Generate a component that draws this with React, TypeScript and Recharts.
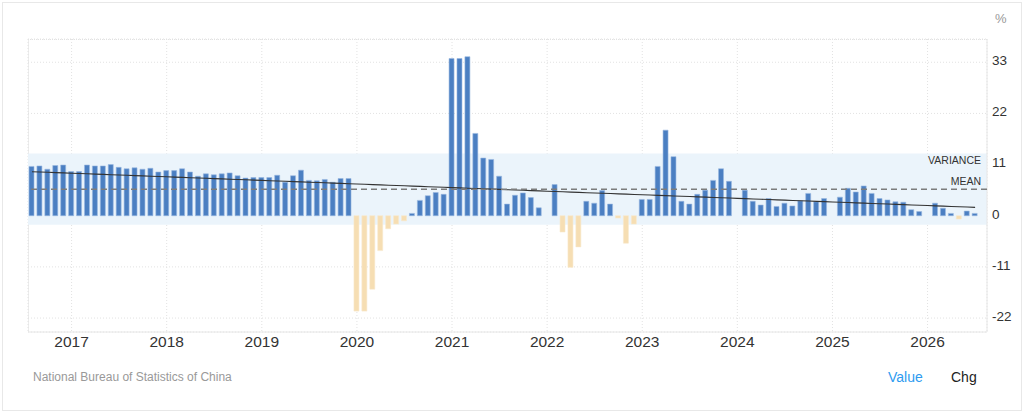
import { ComposedChart, Bar, Line, Cell, XAxis, YAxis, CartesianGrid, ReferenceArea, ReferenceLine } from 'recharts';

// China retail sales YoY (%), monthly. null = no print for that month
const startYear = 2016;
const startMonth = 8; // August
const v2016 = [10.6, 10.7, 10.0, 10.8, 10.9]; // Aug–Dec
const v2017 = [9.5, 9.5, 10.9, 10.7, 10.7, 11.0, 10.4, 10.1, 10.3, 10.0, 10.2, 9.4];
const v2018 = [9.7, 9.7, 10.1, 9.4, 8.5, 9.0, 8.8, 9.0, 9.2, 8.6, 8.1, 8.2];
const v2019 = [8.2, 8.2, 8.7, 7.2, 8.6, 9.8, 7.6, 7.5, 7.8, 7.2, 8.0, 8.0];
const v2020 = [-20.5, -20.5, -15.8, -7.5, -2.8, -1.8, -1.1, 0.5, 3.3, 4.3, 5.0, 4.6];
const v2021 = [33.8, 33.8, 34.2, 17.7, 12.4, 12.1, 8.5, 2.5, 4.4, 4.9, 3.9, 1.7];
const v2022 = [null, 6.7, -3.5, -11.1, -6.7, 3.1, 2.7, 5.4, 2.5, -0.5, -5.9, -1.8];
const v2023 = [3.5, 3.5, 10.6, 18.4, 12.7, 3.1, 2.5, 4.6, 5.5, 7.6, 10.1, 7.4];
const v2024 = [null, 5.5, 3.1, 2.3, 3.7, 2.0, 2.7, 2.1, 3.2, 4.8, 3.0, 3.7];
const v2025 = [null, 4.0, 5.9, 5.1, 6.4, 4.8, 3.7, 3.4, 3.0, 2.9, 1.3, 0.9];
const v2026 = [null, 2.7, 1.6, 0.5, -0.7, 1.0, 0.5, null]; // Jan–Aug (Aug is empty padding)

const yearTicks = ['2017', '2018', '2019', '2020', '2021', '2022', '2023', '2024', '2025', '2026'];
const yTicks = [-22, -11, 0, 11, 22, 33];

const values: (number | null)[] = [
  ...v2016, ...v2017, ...v2018, ...v2019, ...v2020, ...v2021,
  ...v2022, ...v2023, ...v2024, ...v2025, ...v2026,
];

// month keys like "2017-01"
const monthKeys = values.map((_, i) => {
  const m = startMonth - 1 + i;
  const y = startYear + Math.floor(m / 12);
  return `${y}-${String((m % 12) + 1).padStart(2, '0')}`;
});

// stats for the band / mean / trend
const pts = values.map((v, i) => ({ i, v })).filter((p) => p.v !== null) as { i: number; v: number }[];
const n = pts.length;
const mean = pts.reduce((s, p) => s + p.v, 0) / n;
const std = Math.sqrt(pts.reduce((s, p) => s + (p.v - mean) ** 2, 0) / n);
const mi = pts.reduce((s, p) => s + p.i, 0) / n;
const slope = pts.reduce((s, p) => s + (p.i - mi) * (p.v - mean), 0) / pts.reduce((s, p) => s + (p.i - mi) ** 2, 0);
const lastIdx = pts[pts.length - 1].i;

const data = values.map((v, i) => ({
  month: monthKeys[i],
  value: v,
  trend: i <= lastIdx ? mean + slope * (i - mi) : null,
}));

const FONT = '"Liberation Sans", Arial, Helvetica, sans-serif';

const YTick = ({ x, y, payload }: any) => (
  <text x={x} y={y - 2} dy="0.355em" fill="#333" fontSize={13.5} textAnchor="start">
    {payload.value}
  </text>
);

export default function App() {
  return (
    <div style={{ position: 'fixed', left: 0, top: 0, width: 1024, height: 413, background: '#fff', fontFamily: FONT }}>
      <div style={{ position: 'absolute', left: 2, top: 2, width: 1018, height: 407, border: '1px solid #e8e8e8' }} />
      <div style={{ position: 'absolute', left: 28, top: 39, width: 958, height: 292, borderLeft: '1px solid #ececec', borderTop: '1px dotted #e2e2e2' }} />
      <div style={{ position: 'absolute', left: 995, top: 11, fontSize: 13, color: '#999' }}>%</div>

      <div style={{ position: 'absolute', left: 0, top: 0 }}>
        <ComposedChart width={1024} height={360} data={data} margin={{ top: 39, right: 0, left: 28, bottom: 0 }}>
          <CartesianGrid stroke="#e2e2e2" strokeDasharray="1 2" />
          <ReferenceArea
            y1={mean - std}
            y2={mean + std}
            fill="#ebf4fb"
            fillOpacity={1}
            stroke="none"
            ifOverflow="visible"
            label={(p: any) => (
              <text x={p.viewBox.x + p.viewBox.width - 6} y={p.viewBox.y + 10} textAnchor="end" fontSize={10.5} fill="#333">
                VARIANCE
              </text>
            )}
          />
          <XAxis
            dataKey="month"
            ticks={yearTicks.map((y) => `${y}-01`)}
            interval={0}
            tickFormatter={(v: string) => v.slice(0, 4)}
            axisLine={{ stroke: '#e6e6e6' }}
            tickLine={false}
            tickSize={0}
            tickMargin={4}
            height={28}
            tick={{ fill: '#333', fontSize: 15.5 }}
          />
          <YAxis
            orientation="right"
            domain={[-25, 38]}
            ticks={yTicks}
            width={37}
            axisLine={{ stroke: '#e6e6e6' }}
            tickLine={false}
            tickSize={0}
            tickMargin={5}
            tick={<YTick />}
            allowDataOverflow
          />
          <Bar dataKey="value" barSize={5} isAnimationActive={false} strokeWidth={0.6}>
            {data.map((d, i) => (
              <Cell
                key={i}
                fill={d.value !== null && d.value < 0 ? '#f6deb3' : '#4b7fc2'}
                stroke={d.value !== null && d.value < 0 ? '#f9e9cc' : '#9ab8e0'}
              />
            ))}
          </Bar>
          <ReferenceLine
            y={mean}
            stroke="#7c7c7c"
            strokeDasharray="6 4"
            strokeWidth={1.6}
            zIndex={700}
            label={(p: any) => (
              <text x={p.viewBox.x + p.viewBox.width - 6} y={p.viewBox.y - 4.5} textAnchor="end" fontSize={10.5} fill="#333">
                MEAN
              </text>
            )}
          />
          <Line dataKey="trend" stroke="#333" strokeWidth={1.1} dot={false} activeDot={false} isAnimationActive={false} connectNulls />
        </ComposedChart>
      </div>

      <div style={{ position: 'absolute', left: 33, top: 370, fontSize: 12, color: '#999' }}>National Bureau of Statistics of China</div>
      <div style={{ position: 'absolute', left: 888, top: 369, fontSize: 14, color: '#2e9bf0' }}>Value</div>
      <div style={{ position: 'absolute', left: 951, top: 369, fontSize: 14, color: '#222' }}>Chg</div>
    </div>
  );
}
